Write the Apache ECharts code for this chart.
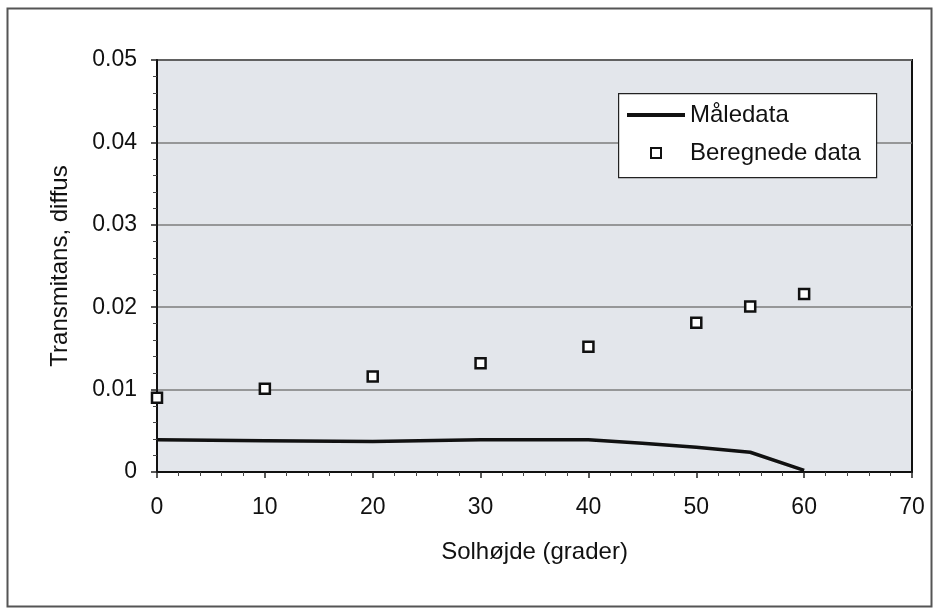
<!DOCTYPE html>
<html>
<head>
<meta charset="utf-8">
<script src="https://cdn.jsdelivr.net/npm/echarts@6/dist/echarts.min.js"></script>
<style>
html,body{margin:0;padding:0;background:#fff;}
#c{width:936px;height:609px;}
</style>
</head>
<body>
<div id="c"></div>
<script>
// Data
const maaleX = [0, 10, 20, 30, 40, 45, 50, 55, 60];
const maaleY = [0.0039, 0.0038, 0.0037, 0.0039, 0.0039, 0.0035, 0.0030, 0.0024, 0.0002];
const beregX = [0, 10, 20, 30, 40, 50, 55, 60];
const beregY = [0.0090, 0.0101, 0.0116, 0.0132, 0.0152, 0.0181, 0.0201, 0.0216];
const seriesNames = ['Måledata', 'Beregnede data'];
const xTitle = 'Solhøjde (grader)';
const yTitle = 'Transmitans, diffus';

const font = 'Liberation Sans, Arial, sans-serif';
const chart = echarts.init(document.getElementById('c'), null, {renderer: 'canvas'});
chart.setOption({
  animation: false,
  backgroundColor: '#ffffff',
  grid: {
    left: 157, right: 24, top: 60, bottom: 137,
    show: true, backgroundColor: '#e3e6eb', borderColor: '#111', borderWidth: 2
  },
  xAxis: {
    type: 'value', min: 0, max: 70, interval: 10,
    name: xTitle, nameLocation: 'middle', nameGap: 68,
    nameTextStyle: {fontFamily: font, fontSize: 24, color: '#111'},
    axisLine: {lineStyle: {color: '#111', width: 2}},
    axisTick: {show: true, length: 6, lineStyle: {color: '#222', width: 1.5}},
    minorTick: {show: true, splitNumber: 5, length: 4, lineStyle: {color: '#444', width: 1}},
    axisLabel: {fontFamily: font, fontSize: 23, color: '#111', margin: 24},
    splitLine: {show: false}
  },
  yAxis: {
    type: 'value', min: 0, max: 0.05, interval: 0.01,
    name: yTitle, nameLocation: 'middle', nameGap: 85,
    nameTextStyle: {fontFamily: font, fontSize: 24, color: '#111'},
    axisLine: {show: true, lineStyle: {color: '#111', width: 2}},
    axisTick: {show: true, length: 6, lineStyle: {color: '#222', width: 1.5}},
    minorTick: {show: true, splitNumber: 5, length: 4, lineStyle: {color: '#444', width: 1}},
    axisLabel: {fontFamily: font, fontSize: 23, color: '#111', margin: 20,
      formatter: v => v === 0 ? '0' : v.toFixed(2)},
    splitLine: {show: true, lineStyle: {color: '#7c7c7c', width: 1.5}}
  },
  legend: [
    {
      data: [{name: seriesNames[0], icon: 'rect'}], left: 627, top: 103, padding: 0,
      itemWidth: 58, itemHeight: 4,
      itemStyle: {color: '#111', borderWidth: 0},
      textStyle: {fontFamily: font, fontSize: 24, color: '#111'},
      z: 10, selectedMode: false
    },
    {
      data: [{name: seriesNames[1], icon: 'rect'}], left: 650, top: 141, padding: 0,
      itemWidth: 10, itemHeight: 10,
      itemStyle: {color: '#ffffff', borderColor: '#111', borderWidth: 2},
      textStyle: {fontFamily: font, fontSize: 24, color: '#111', padding: [0, 0, 0, 24]},
      z: 10, selectedMode: false
    }
  ],
  graphic: [
    {type: 'rect', left: 618, top: 93, z: 5,
     shape: {width: 258, height: 84},
     style: {fill: '#ffffff', stroke: '#222', lineWidth: 1.2}},
    {type: 'rect', left: 5, top: 6, z: 0, silent: true,
     shape: {width: 924, height: 598},
     style: {fill: 'none', stroke: '#555', lineWidth: 2}}
  ],
  series: [
    {
      name: seriesNames[0], type: 'line',
      data: maaleX.map((x, i) => [x, maaleY[i]]),
      symbol: 'none', showSymbol: false,
      lineStyle: {color: '#111', width: 3.5},
      itemStyle: {color: '#111'}, z: 3
    },
    {
      name: seriesNames[1], type: 'scatter',
      data: beregX.map((x, i) => [x, beregY[i]]),
      symbol: 'rect', symbolSize: 10,
      itemStyle: {color: '#ffffff', borderColor: '#111', borderWidth: 2.5, opacity: 1}, z: 4
    }
  ]
});
</script>
</body>
</html>
